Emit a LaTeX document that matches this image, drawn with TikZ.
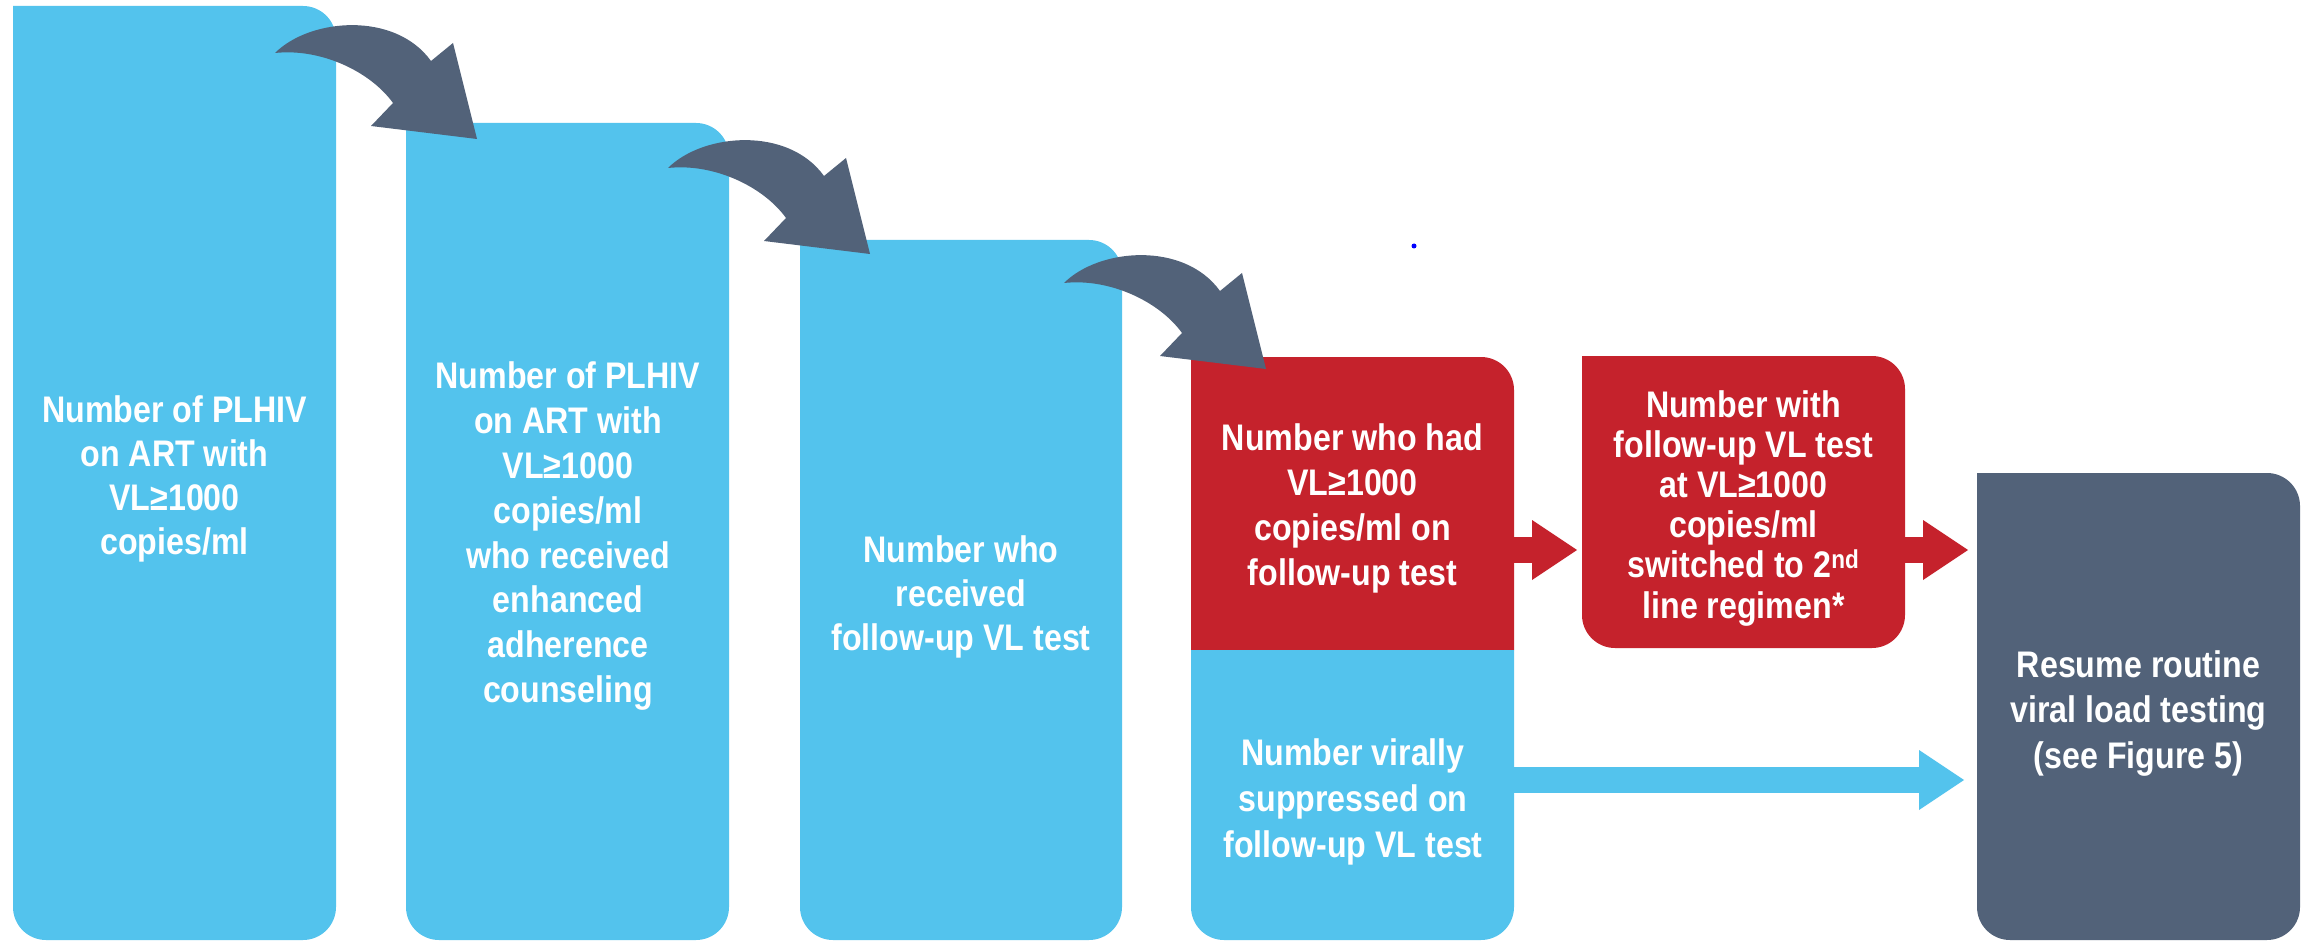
\documentclass[tikz,border=0pt]{standalone}
\usepackage{fontspec}
\usetikzlibrary{arrows.meta}
\newfontfamily\boxfont{Liberation Sans}[FakeStretch=0.87]
\definecolor{cblue}{HTML}{53C3ED}
\definecolor{cred}{HTML}{C5222C}
\definecolor{cslate}{HTML}{526279}
\newcommand\lines[2]{\vtop{\baselineskip=#1pt\lineskiplimit=-100pt\halign{\hfil##\hfil\cr#2\crcr}}}
% box with sharp top-left corner, other corners rounded
\newcommand\roundbox[6]{%
  \fill[#6] (#2,#3) -- ({#4-33},#3) .. controls ({#4-14.8},#3) and (#4,{#3+14.8}) .. (#4,{#3+33})
    -- (#4,{#5-33}) .. controls (#4,{#5-14.8}) and ({#4-14.8},#5) .. ({#4-33},#5)
    -- ({#2+33},#5) .. controls ({#2+14.8},#5) and (#2,{#5-14.8}) .. (#2,{#5-33}) -- cycle;
  \node[frame, minimum width={(#4-#2)*1pt}, minimum height={(#5-#3)*1pt}] (#1) at ({(#2+#4)/2},{(#3+#5)/2}) {};}
\begin{document}
\begin{tikzpicture}[x=1pt,y=-1pt,
  frame/.style={inner sep=0pt, outer sep=0pt, draw=none, rectangle},
  lbl/.style={inner sep=0pt, text=white, anchor=base, font=\boxfont\bfseries\fontsize{37}{44}\selectfont},
  fat/.style={line width=26pt, line cap=butt, -{Triangle[length=45pt,width=60pt,line width=0pt]}},
  curvearrow/.style={fill=cslate}]
\useasboundingbox (0,0) rectangle (2305,941);
\fill[white] (0,0) rectangle (2305,941);

% boxes
\roundbox{b1}{13}{6}{336}{940}{cblue}
\roundbox{b2}{406}{123}{729}{940}{cblue}
\roundbox{b3}{800}{240}{1122}{940}{cblue}
% split box 4
\fill[cred] (1191,357) -- (1481,357) .. controls (1499.2,357) and (1514,371.8) .. (1514,390) -- (1514,650) -- (1191,650) -- cycle;
\fill[cblue] (1191,650) -- (1514,650) -- (1514,907) .. controls (1514,925.2) and (1499.2,940) .. (1481,940) -- (1224,940) .. controls (1205.8,940) and (1191,925.2) .. (1191,907) -- cycle;
\node[frame, minimum width=323pt, minimum height=293pt] (b4r) at (1352.5,503.5) {};
\node[frame, minimum width=323pt, minimum height=290pt] (b4b) at (1352.5,795) {};
\roundbox{b5}{1582}{356}{1905}{648}{cred}
\roundbox{b6}{1977}{473}{2300}{940}{cslate}

% texts
\node[lbl] (t1) at (174.5,422) {\lines{44}{Number of PLHIV\cr on ART with\cr VL≥1000\cr copies/ml}};
\node[lbl] (t2) at (568,388) {\lines{45}{Number of PLHIV\cr on ART with\cr VL≥1000\cr copies/ml\cr who received\cr enhanced\cr adherence\cr counseling}};
\node[lbl] (t3) at (961,562) {\lines{44}{Number who\cr received\cr follow-up VL test}};
\node[lbl] (t4) at (1352.5,450) {\lines{45}{Number who had\cr VL≥1000\cr copies/ml on\cr follow-up test}};
\node[lbl] (t5) at (1353,765) {\lines{46}{Number virally\cr suppressed on\cr follow-up VL test}};
\node[lbl] (t6) at (1743.5,417) {\lines{40.2}{Number with\cr follow-up VL test\cr at VL≥1000\cr copies/ml\cr switched to 2\textsuperscript{nd}\cr line regimen*}};
\node[lbl] (t7) at (2138.5,677) {\lines{45.5}{Resume routine\cr viral load testing\cr (see Figure 5)}};

% straight fat arrows
\draw[fat, cred, shorten >=5pt] (b4r.east |- 0,550) -- (b5.west |- 0,550);
\draw[fat, cred, shorten >=9pt] (b5.east |- 0,550) -- (b6.west |- 0,550);
\draw[fat, cblue, shorten >=13pt] (b4b.east |- 0,780) -- (b6.west |- 0,780);

% curved arrows
\coordinate (c1) at (275,53);
\coordinate (c2) at (668,168);
\coordinate (c3) at (1064,283);
\foreach \c in {c1,c2,c3}{
  \fill[curvearrow, shift={(\c)}] (0,0) .. controls (35,-35) and (120,-42) .. (156,8)
    -- (178,-10) -- (202,86) -- (96,73) -- (118,50)
    .. controls (95,18) and (45,-5) .. (0,0) -- cycle;
}

% small blue dot
\fill[blue] (1414,246) circle[radius=2.5pt];
\end{tikzpicture}
\end{document}
